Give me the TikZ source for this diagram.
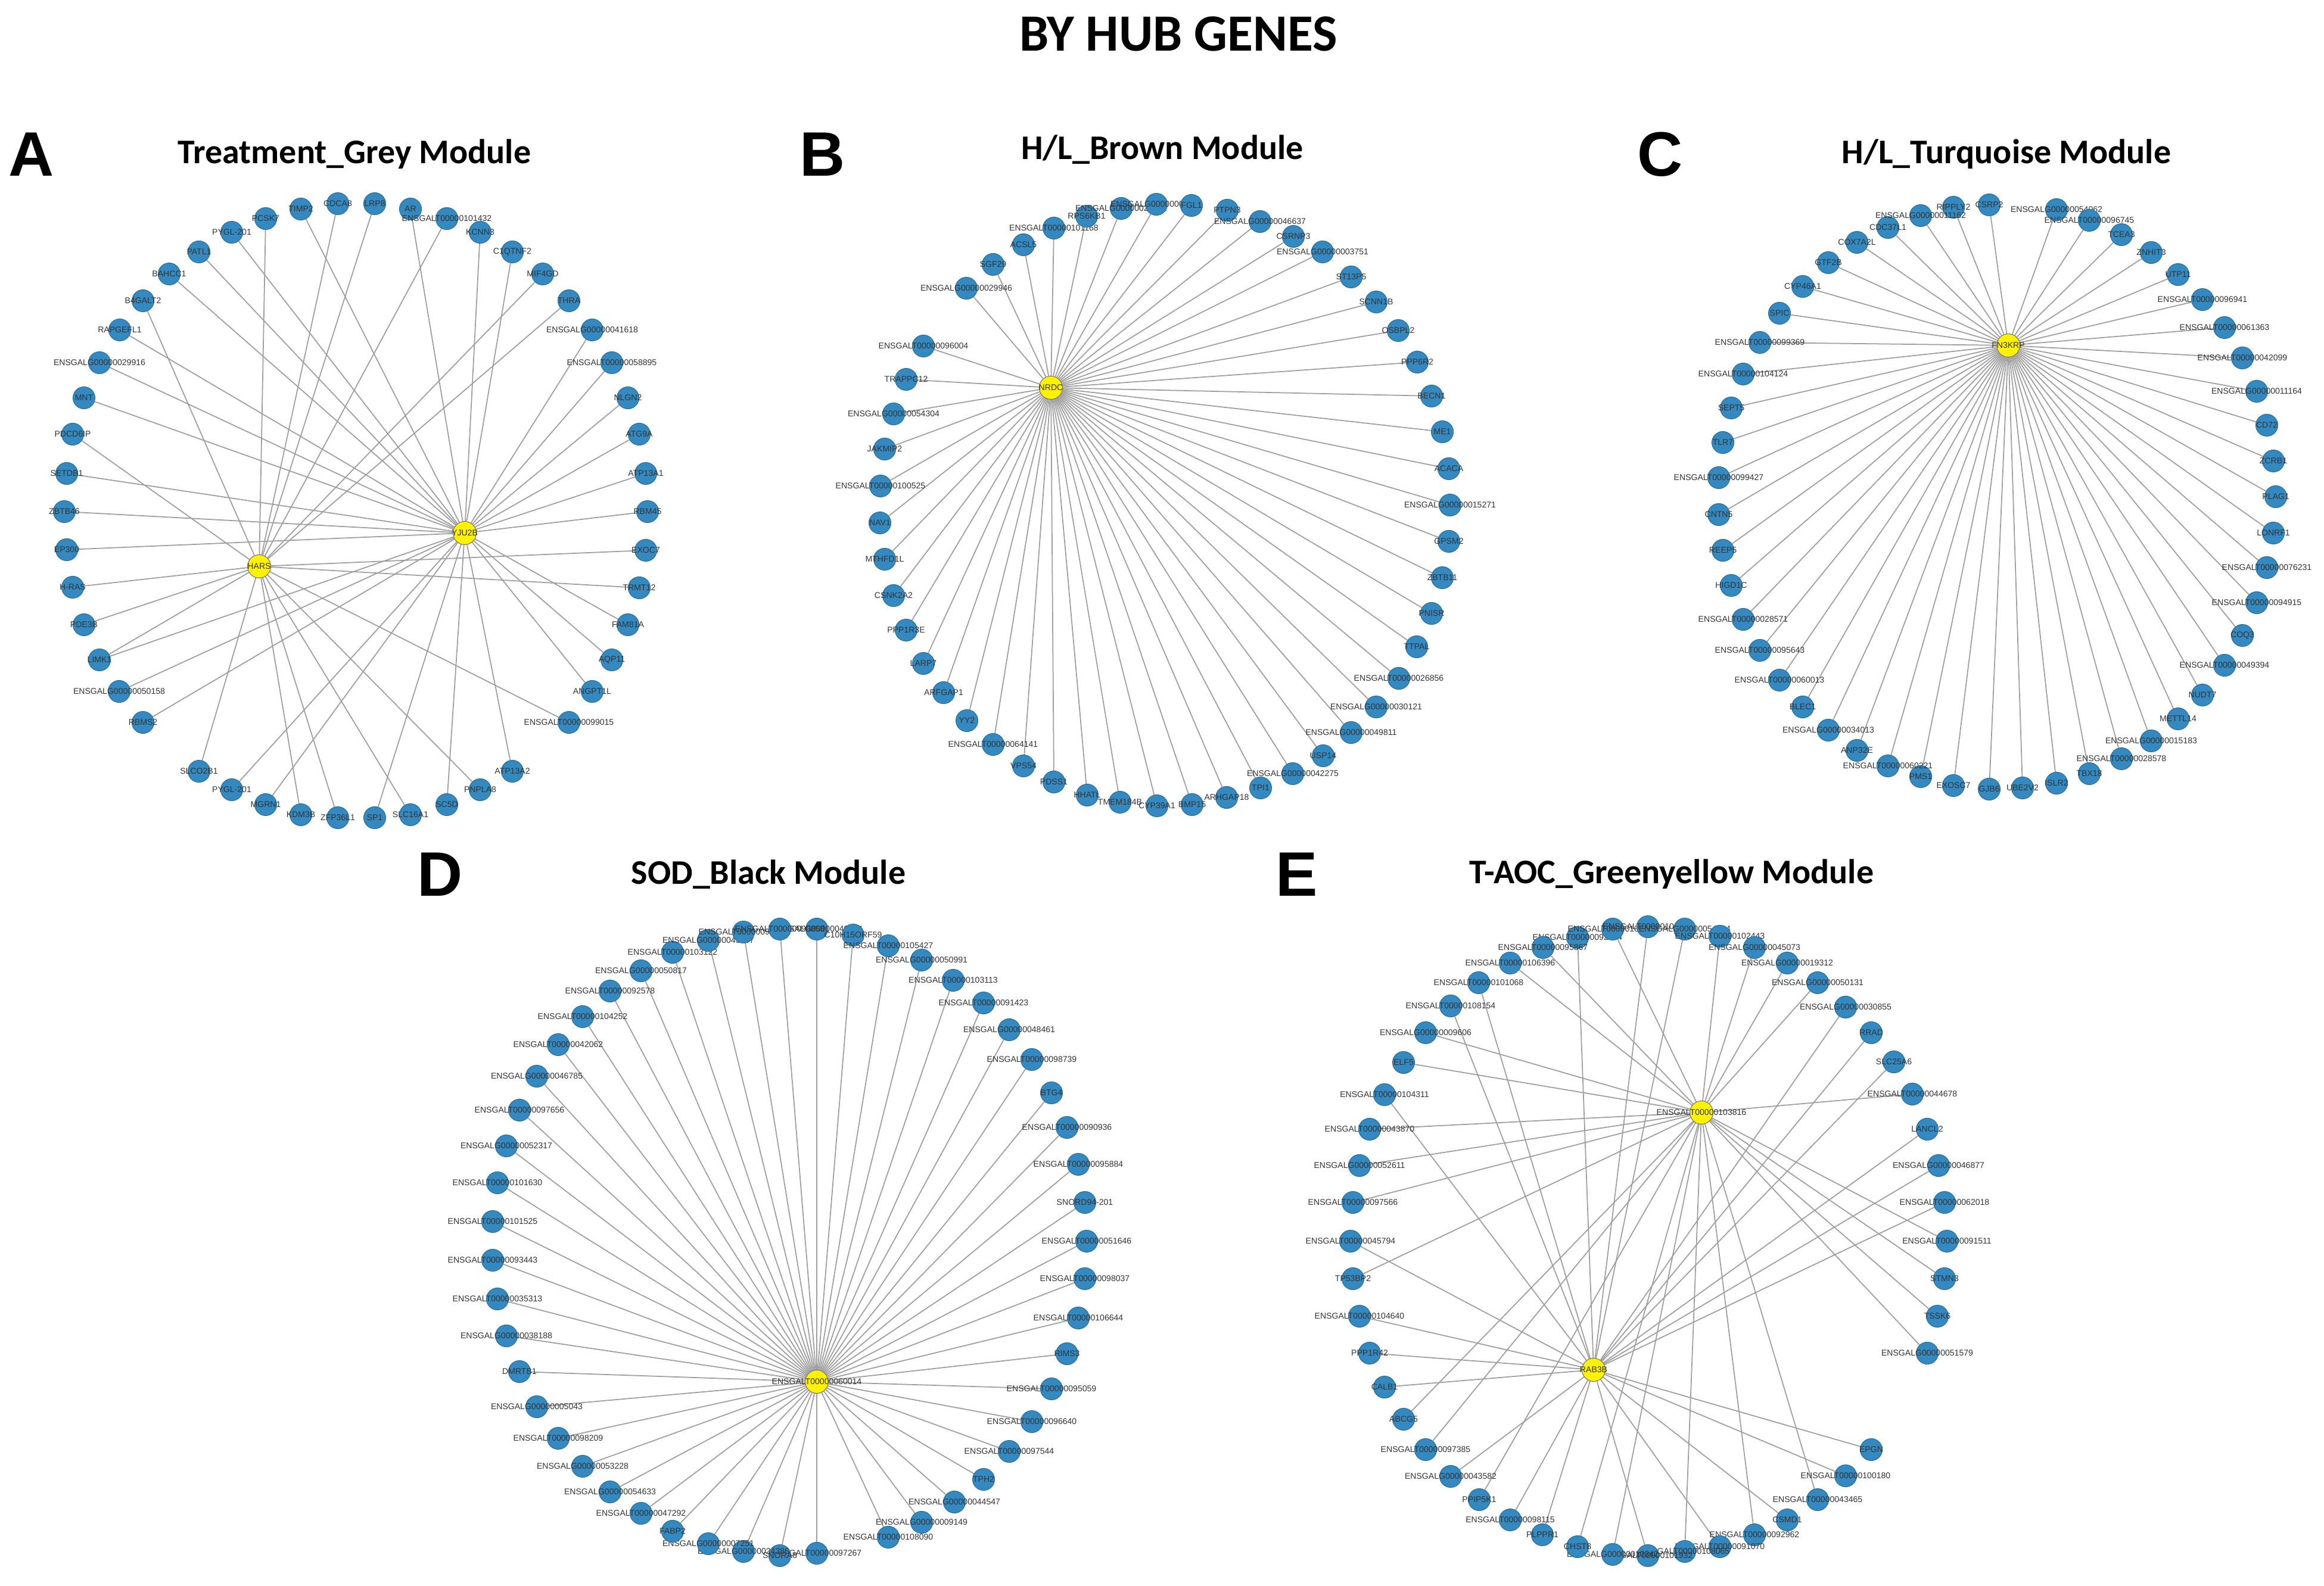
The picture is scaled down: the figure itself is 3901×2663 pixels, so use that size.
\documentclass[tikz,border=0pt]{standalone}
\usepackage{fontspec}
\setmainfont{Liberation Sans}
\newfontfamily\headfont{Carlito}
\usetikzlibrary{backgrounds}
\definecolor{geneblue}{RGB}{52,138,192}

\begin{document}
\begin{tikzpicture}[x=0.1mm,y=-0.1mm,
    genetext/.style={font=\fontsize{4}{4}\selectfont, text=black!80},
    gene/.style={circle, fill=geneblue, draw=geneblue!80!black, line width=0.3pt,
      minimum size=3.7mm, inner sep=0pt, label={[genetext]center:#1}},
    hub/.style={circle, fill=yellow, draw=black!55, line width=0.3pt,
      minimum size=3.9mm, inner sep=0pt, label={[genetext]center:#1}},
    link/.style={draw=black!38, line width=0.5pt},
    paneltitle/.style={font=\headfont\bfseries\fontsize{16.5}{20}\selectfont},
    panelletter/.style={font=\bfseries\fontsize{30}{34}\selectfont}]
  \useasboundingbox (0,0) rectangle (3901,2663);

  \node[font=\headfont\bfseries\fontsize{25}{30}\selectfont] (title) at (1978,57) {BY HUB GENES};

  % A
  \node[panelletter] (la) at (53,259) {A};
  \node[paneltitle] (ta) at (595,259) {Treatment\_Grey Module};
  \node[hub=HARS] (hars) at (435,951) {};
  \node[hub=YJU2B] (yju) at (780,895) {};
  \foreach \n/\x/\y/\g/\h in {
      a1/446/367/PCSK7/hars, a2/505/351/TIMP2/yju, a3/567/342/CDCA8/hars,
      a4/629/342/LRP8/hars, a5/689/351/AR/yju, a6/750/367/ENSGALT00000101432/hars,
      a7/806/390/KCNN3/yju, a8/860/423/C1QTNF2/yju, a9/911/460/MIF4GD/hars,
      a10/955/505/THRA/hars, a11/994/554/ENSGALG00000041618/yju,
      a12/1027/609/ENSGALT00000058895/yju, a13/1054/668/NLGN2/yju,
      a14/1073/729/ATG9A/yju, a15/1084/795/ATP13A1/yju, a16/1087/859/RBM45/yju,
      a17/1084/924/EXOC7/hars, a18/1073/987/TRMT12/hars, a19/1054/1049/FAM81A/yju,
      a20/1027/1108/AQP11/yju, a21/994/1161/ANGPT1L/yju,
      a22/955/1213/ENSGALT00000099015/hars, a23/860/1295/ATP13A2/yju,
      a24/806/1326/PNPLA8/hars, a25/750/1351/SC5D/yju, a26/689/1368/SLC16A1/hars,
      a27/629/1373/SP1/yju, a28/567/1373/ZFP36L1/hars, a29/505/1368/KDM3B/hars,
      a30/446/1351/MGRN1/yju, a31/389/1326/PYGL-201/yju, a32/334/1295/SLCO2B1/hars,
      a33/240/1213/RBMS2/yju, a34/200/1161/ENSGALG00000050158/yju,
      a35/167/1108/LIMK1/hars, a36/141/1049/PDE3B/hars, a37/122/986/H-RAS/hars,
      a38/112/923/EP300/yju, a39/108/859/ZBTB46/yju, a40/112/795/SETDB1/yju,
      a41/122/729/PDCD6IP/hars, a42/141/668/MNT/yju,
      a43/167/609/ENSGALG00000029916/yju, a44/201/554/RAPGEFL1/yju,
      a45/240/505/B4GALT2/hars, a46/284/460/BAHCC1/yju, a47/334/423/PATL1/yju,
      a48/389/390/PYGL-201/yju}{
    \node[gene=\g] (\n) at (\x,\y) {};
    \begin{pgfonlayer}{background}\draw[link] (\h) -- (\n);\end{pgfonlayer}
  }
  \begin{pgfonlayer}{background}\draw[link] (yju) -- (a35);\end{pgfonlayer}

  % B
  \node[panelletter] (lb) at (1381,259) {B};
  \node[paneltitle] (tb) at (1951,251) {H/L\_Brown Module};
  \node[hub=NRDC] (nrdc) at (1764,651) {};
  \foreach \n/\x/\y/\g in {
      b1/1769/383/ENSGALT00000101168, b2/1824/363/RPS6KB1,
      b3/1882/350/ENSGALG00000029651, b4/1941/343/ENSGALG00000006025,
      b5/2000/345/FGL1, b6/2060/353/PTPN3, b7/2115/372/ENSGALG00000046637,
      b8/2171/397/CSRNP3, b9/2220/423/ENSGALG00000003751, b10/2268/465/ST13P5,
      b11/2310/507/SCNN1B, b12/2347/555/OSBPL2, b13/2379/608/PPP6R2,
      b14/2403/665/BECN1, b15/2421/725/ME1, b16/2432/787/ACACA,
      b17/2434/848/ENSGALG00000015271, b18/2432/909/GPSM2, b19/2421/970/ZBTB11,
      b20/2403/1030/PNISR, b21/2378/1086/TTPAL, b22/2348/1139/ENSGALT00000026856,
      b23/2310/1187/ENSGALG00000030121, b24/2268/1230/ENSGALG00000049811,
      b25/2221/1269/USP14, b26/2170/1299/ENSGALG00000042275, b27/2116/1323/TPI1,
      b28/2059/1339/ARHGAP18, b29/2001/1351/BMP15, b30/1942/1353/CYP39A1,
      b31/1880/1347/TMEM184B, b32/1825/1335/HHATL, b33/1769/1313/PDSS1,
      b34/1718/1286/VPS54, b35/1667/1250/ENSGALT00000064141, b36/1623/1210/YY2,
      b37/1584/1163/ARFGAP1, b38/1550/1114/LARP7, b39/1521/1058/PPP1R3E,
      b40/1500/1000/CSNK2A2, b41/1485/939/MTHFD1L, b42/1477/878/NAV1,
      b43/1478/816/ENSGALT00000100525, b44/1485/754/JAKMIP2,
      b45/1500/695/ENSGALG00000054304, b46/1521/637/TRAPPC12,
      b47/1550/581/ENSGALT00000096004, b48/1622/484/ENSGALG00000029946,
      b49/1667/444/SGF29, b50/1718/411/ACSL5}{
    \node[gene=\g] (\n) at (\x,\y) {};
    \begin{pgfonlayer}{background}\draw[link] (nrdc) -- (\n);\end{pgfonlayer}
  }

  % C
  \node[panelletter] (lc) at (2787,259) {C};
  \node[paneltitle] (tc) at (3368,259) {H/L\_Turquoise Module};
  \node[hub=FN3KRP] (fn3) at (3371,580) {};
  \foreach \n/\x/\y/\g in {
      c1/3279/348/RIPPLY2, c2/3339/344/CSRP2, c3/3452/352/ENSGALG00000054062,
      c4/3507/370/ENSGALT00000096745, c5/3561/394/TCEA3, c6/3611/424/ZNHIT3,
      c7/3656/461/UTP11, c8/3697/503/ENSGALT00000096941,
      c9/3734/550/ENSGALT00000061363, c10/3764/601/ENSGALT00000042099,
      c11/3788/657/ENSGALG00000011164, c12/3805/714/CD72, c13/3816/774/ZCRB1,
      c14/3820/834/PLAG1, c15/3816/895/LONRF1, c16/3805/953/ENSGALT00000076231,
      c17/3788/1012/ENSGALT00000094915, c18/3764/1067/COQ3,
      c19/3734/1117/ENSGALT00000049394, c20/3697/1167/NUDT7,
      c21/3656/1207/METTL14, c22/3611/1244/ENSGALG00000015183,
      c23/3561/1274/ENSGALT00000028578, c24/3507/1299/TBX18, c25/3452/1315/ISLR2,
      c26/3395/1323/UBE2V2, c27/3339/1325/GJB6, c28/3279/1319/EXOSC7,
      c29/3224/1304/PMS1, c30/3169/1286/ENSGALT00000060221, c31/3117/1260/ANP32E,
      c32/3069/1226/ENSGALG00000034013, c33/3026/1187/BLEC1,
      c34/2987/1142/ENSGALT00000060013, c35/2954/1092/ENSGALT00000095643,
      c36/2926/1040/ENSGALT00000028571, c37/2906/983/HIGD1C, c38/2892/924/REEP5,
      c39/2885/864/CNTN5, c40/2885/802/ENSGALT00000099427, c41/2892/743/TLR7,
      c42/2906/685/SEPT5, c43/2926/628/ENSGALT00000104124,
      c44/2954/575/ENSGALT00000099369, c45/2987/526/SPIC, c46/3026/481/CYP46A1,
      c47/3069/441/GTF2B, c48/3117/407/COX7A2L, c49/3169/382/CDC37L1,
      c50/3224/362/ENSGALG00000011162}{
    \node[gene=\g] (\n) at (\x,\y) {};
    \begin{pgfonlayer}{background}\draw[link] (fn3) -- (\n);\end{pgfonlayer}
  }

  % D
  \node[panelletter] (ld) at (739,1468) {D};
  \node[paneltitle] (td) at (1290,1468) {SOD\_Black Module};
  \node[hub=ENSGALT00000060014] (dhub) at (1371,2320) {};
  \foreach \n/\x/\y/\g in {
      d1/1371/1560/ENSGALG00000049754, d2/1432/1570/C10H15ORF59,
      d3/1491/1588/ENSGALT00000105427, d4/1547/1612/ENSGALG00000050991,
      d5/1600/1646/ENSGALT00000103113, d6/1651/1684/ENSGALT00000091423,
      d7/1694/1729/ENSGALG00000048461, d8/1732/1779/ENSGALT00000098739,
      d9/1765/1835/BTG4, d10/1791/1893/ENSGALT00000090936,
      d11/1810/1955/ENSGALT00000095884, d12/1821/2019/SNORD94-201,
      d13/1824/2084/ENSGALT00000051646, d14/1821/2147/ENSGALT00000098037,
      d15/1810/2213/ENSGALT00000106644, d16/1791/2273/RIMS3,
      d17/1765/2332/ENSGALT00000095059, d18/1732/2387/ENSGALT00000096640,
      d19/1694/2437/ENSGALT00000097544, d20/1651/2484/TPH2,
      d21/1602/2522/ENSGALG00000044547, d22/1547/2556/ENSGALG00000009149,
      d23/1491/2581/ENSGALT00000108090, d24/1371/2608/ENSGALT00000097267,
      d25/1309/2612/SNORA8, d26/1248/2605/ENSGALG00000024386,
      d27/1189/2592/ENSGALG00000007251, d28/1129/2571/FABP2,
      d29/1076/2541/ENSGALT00000047292, d30/1024/2505/ENSGALG00000054633,
      d31/978/2462/ENSGALG00000053228, d32/937/2415/ENSGALT00000098209,
      d33/901/2362/ENSGALG00000005043, d34/872/2303/DMRTB1,
      d35/850/2243/ENSGALG00000038188, d36/835/2181/ENSGALT00000035313,
      d37/827/2116/ENSGALT00000093443, d38/827/2051/ENSGALT00000101525,
      d39/835/1986/ENSGALT00000101630, d40/850/1924/ENSGALG00000052317,
      d41/872/1864/ENSGALT00000097656, d42/901/1807/ENSGALG00000046785,
      d43/937/1754/ENSGALT00000042062, d44/978/1707/ENSGALT00000104252,
      d45/1024/1664/ENSGALT00000092578, d46/1076/1630/ENSGALG00000050817,
      d47/1129/1599/ENSGALT00000103122, d48/1189/1579/ENSGALG00000045207,
      d49/1248/1565/ENSGALT00000095355, d50/1309/1560/ENSGALT00000090853}{
    \node[gene=\g] (\n) at (\x,\y) {};
    \begin{pgfonlayer}{background}\draw[link] (dhub) -- (\n);\end{pgfonlayer}
  }

  % E
  \node[panelletter] (le) at (2177,1468) {E};
  \node[paneltitle] (te) at (2806,1468) {T-AOC\_Greenyellow Module};
  \node[hub=ENSGALT00000103816] (eh) at (2856,1868) {};
  \node[hub=RAB3B] (rab) at (2675,2300) {};
  \foreach \n/\x/\y/\g/\h in {
      e1/2648/1574/ENSGALT00000092384/rab, e2/2707/1560/ENSGALT00000106453/eh,
      e3/2766/1556/ENSGALT00000101986/rab, e4/2828/1560/ENSGALG00000054224/rab,
      e5/2887/1572/ENSGALT00000102443/eh, e6/2945/1591/ENSGALG00000045073/eh,
      e7/3000/1617/ENSGALG00000019312/eh, e8/3051/1650/ENSGALG00000050131/eh,
      e9/3098/1691/ENSGALG00000030855/rab, e10/3141/1734/RRAD/rab,
      e11/3179/1783/SLC25A6/rab, e12/3210/1837/ENSGALT00000044678/eh,
      e13/3235/1896/LANCL2/rab, e14/3254/1957/ENSGALG00000046877/rab,
      e15/3264/2019/ENSGALT00000062018/rab, e16/3268/2084/ENSGALT00000091511/eh,
      e17/3264/2147/STMN3/eh, e18/3252/2210/TSSK6/eh,
      e19/3235/2272/ENSGALG00000051579/eh, e20/3141/2434/EPGN/rab,
      e21/3098/2478/ENSGALT00000100180/rab, e22/3051/2518/ENSGALT00000043465/eh,
      e23/3000/2552/CSMD1/rab, e24/2945/2577/ENSGALT00000092962/eh,
      e25/2887/2597/ENSGALT00000091070/rab, e26/2828/2605/ENSGALT00000108065/eh,
      e27/2766/2612/ENSGALT00000101932/rab, e28/2707/2610/ENSGALG00000010342/eh,
      e29/2648/2597/CHST8/eh, e30/2589/2577/PLPPR1/rab,
      e31/2535/2552/ENSGALT00000098115/rab, e32/2483/2518/PPIP5K1/eh,
      e33/2435/2479/ENSGALG00000043582/rab, e34/2393/2434/ENSGALT00000097385/eh,
      e35/2356/2383/ABCG5/eh, e36/2324/2329/CALB1/rab, e37/2299/2272/PPP1R42/rab,
      e38/2282/2210/ENSGALT00000104640/rab, e39/2271/2147/TP53BP2/eh,
      e40/2267/2084/ENSGALT00000045794/rab, e41/2271/2019/ENSGALT00000097566/eh,
      e42/2282/1957/ENSGALG00000052611/eh, e43/2299/1896/ENSGALT00000043870/eh,
      e44/2324/1838/ENSGALT00000104311/rab, e45/2356/1784/ELF5/eh,
      e46/2393/1734/ENSGALG00000009606/eh, e47/2435/1689/ENSGALT00000108154/rab,
      e48/2482/1650/ENSGALT00000101068/rab, e49/2535/1617/ENSGALT00000106396/eh,
      e50/2590/1591/ENSGALT00000095867/eh}{
    \node[gene=\g] (\n) at (\x,\y) {};
    \begin{pgfonlayer}{background}\draw[link] (\h) -- (\n);\end{pgfonlayer}
  }
\end{tikzpicture}
\end{document}
